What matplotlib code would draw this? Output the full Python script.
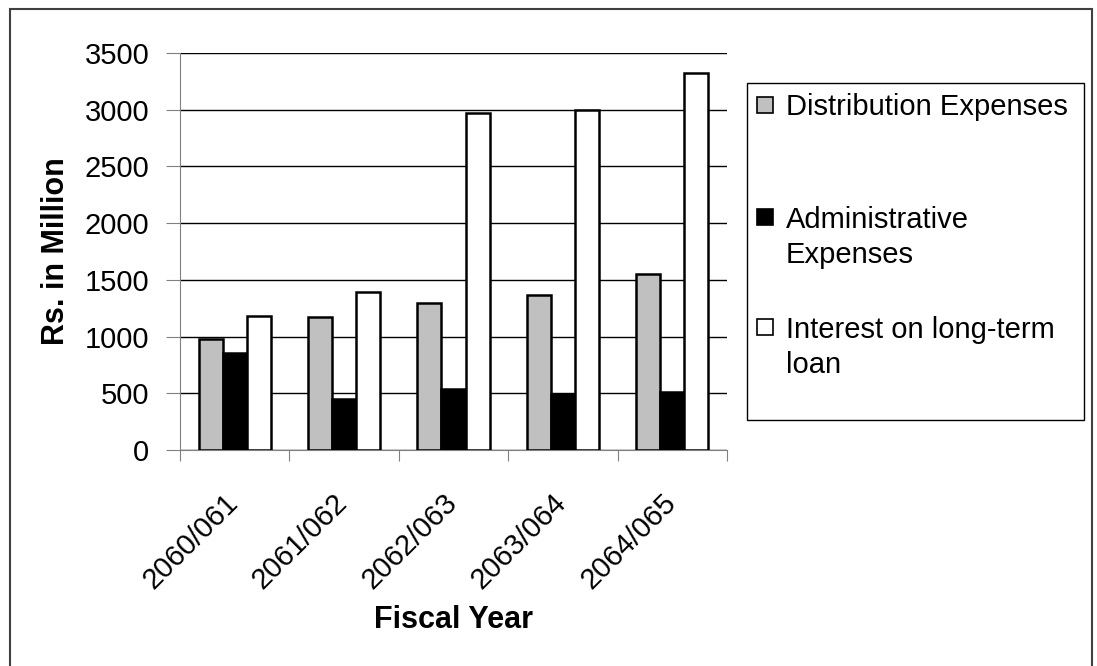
import numpy as np
import matplotlib.pyplot as plt
from matplotlib.patches import Rectangle

years = ["2060/061", "2061/062", "2062/063", "2063/064", "2064/065"]
distribution = [980, 1170, 1300, 1370, 1550]
administrative = [855, 450, 535, 495, 510]
interest = [1180, 1395, 2975, 2995, 3325]

labels = ["Distribution Expenses", "Administrative\nExpenses", "Interest on long-term\nloan"]
colors = ["#C0C0C0", "#000000", "#FFFFFF"]

plt.rcParams["font.family"] = ["Liberation Sans", "DejaVu Sans"]

W, H = 1097, 666
fig = plt.figure(figsize=(W / 100, H / 100), dpi=100)
ax = fig.add_axes([180 / W, 1 - 450 / H, 547 / W, 397 / H])

x = np.arange(len(years))
w = 0.22
series = [distribution, administrative, interest]
for i, (vals, c, lab) in enumerate(zip(series, colors, labels)):
    ax.bar(x + (i - 1) * w, vals, w, color=c, edgecolor="black", linewidth=1.8,
           label=lab, zorder=3)

ax.set_xlim(-0.5, len(years) - 0.5)
ax.set_ylim(0, 3500)
ax.set_yticks(np.arange(0, 3501, 500))
ax.yaxis.grid(True, color="black", linewidth=1, zorder=0)
ax.set_xticks(np.arange(-0.5, len(years), 1))
ax.set_xticklabels([])
# label anchors sit slightly left of the group centres (invisible minor ticks)
ax.set_xticks(x - 0.1, minor=True)
ax.set_xticklabels(years, minor=True, rotation=45, ha="right", va="top",
                   rotation_mode="anchor", fontsize=21)
ax.tick_params(axis="x", which="minor", length=0, pad=28)
ax.tick_params(axis="x", which="major", length=8, color="gray", direction="out")
ax.tick_params(axis="y", length=10, color="gray", labelsize=21, pad=12)

for s in ["top", "right"]:
    ax.spines[s].set_visible(False)
ax.spines["left"].set_color("gray")
ax.spines["bottom"].set_color("gray")

ax.set_ylabel("Rs. in Million", fontsize=22, fontweight="bold")
ax.yaxis.set_label_coords(-0.2, 0.5)
ax.set_xlabel("Fiscal Year", fontsize=22, fontweight="bold")
ax.xaxis.set_label_coords(0.5, -0.39)

# legend box, markers aligned with the first line of each label
fig.patches.append(Rectangle((747 / W, 1 - 420 / H), 337 / W, 337 / H,
                             transform=fig.transFigure, fill=False,
                             edgecolor="black", linewidth=1))
base_y = [115, 227, 337]
line_px = 36
for c, lab, by in zip(colors, labels, base_y):
    fig.patches.append(Rectangle((757 / W, 1 - (by - 2) / H), 16 / W, 16 / H,
                                 transform=fig.transFigure, facecolor=c,
                                 edgecolor="black", linewidth=1.2))
    n_extra = lab.count("\n")
    fig.text(786 / W, 1 - (by + n_extra * line_px) / H, lab, fontsize=21,
             va="baseline", ha="left", linespacing=1.3)

fig.patches.append(Rectangle((10 / W, -0.01), 1082 / W, 1 - 9 / H + 0.01,
                             transform=fig.transFigure, fill=False,
                             edgecolor="#404040", linewidth=1.5))

fig.savefig("out.png", dpi=100)
